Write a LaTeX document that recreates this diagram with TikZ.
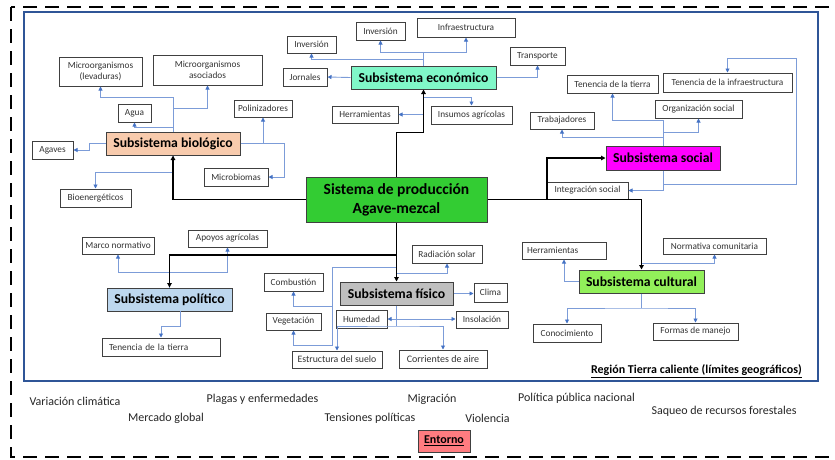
\documentclass[tikz,border=0pt]{standalone}
\usepackage{fontspec}
\setmainfont{Carlito}
\usetikzlibrary{arrows.meta}
\definecolor{lnblue}{RGB}{124,156,216}
\definecolor{tipblue}{RGB}{68,114,196}
\definecolor{frameblue}{RGB}{47,85,151}
\definecolor{boxgray}{RGB}{64,64,64}
\definecolor{maingreen}{RGB}{51,204,51}
\definecolor{ecofill}{RGB}{128,247,200}
\definecolor{biofill}{RGB}{248,203,173}
\definecolor{socfill}{RGB}{255,0,255}
\definecolor{polfill}{RGB}{189,215,238}
\definecolor{fisfill}{RGB}{191,191,191}
\definecolor{culfill}{RGB}{146,240,90}
\definecolor{entfill}{RGB}{255,124,128}
\tikzset{
 sbox/.style={draw=boxgray, line width=1pt, fill=white, inner sep=1pt, font=\fontsize{9.3}{11.5}\selectfont, align=center, text=black!80},
 subbox/.style={draw=boxgray, line width=1pt, inner sep=1pt, font=\fontsize{13.7}{16}\selectfont\bfseries},
 bl/.style={draw=lnblue, line width=0.9pt},
 bla/.style={bl, -{Triangle[length=4pt,width=4pt,color=tipblue]}},
 blb/.style={bl, {Triangle[length=4pt,width=4pt,color=tipblue]}-{Triangle[length=4pt,width=4pt,color=tipblue]}},
 blk/.style={draw=black, line width=1.3pt, -{Triangle[length=4.5pt,width=4.5pt]}},
 envtext/.style={font=\fontsize{12}{14}\selectfont, text=black!85, inner sep=0}
}
\begin{document}
\begin{tikzpicture}[x=1pt,y=-1pt]
\useasboundingbox (0,0) rectangle (835,459);
% frames
\draw[line width=2.2pt, dash pattern=on 14pt off 8pt] (11,7) rectangle (850,457);
\draw[frameblue, line width=1.5pt] (24,12) rectangle (818,381);
\node[font=\fontsize{12}{14}\selectfont\bfseries, anchor=east, inner sep=0] (reg) at (802,371) {\underline{Región Tierra caliente (límites geográficos)}};

% main and subsystem boxes
\node[subbox, fill=maingreen, minimum width=181, minimum height=45, align=center, font=\fontsize{15.5}{19}\selectfont\bfseries] (main) at (396.5,199.5) {Sistema de producción\\Agave-mezcal};
\node[subbox, fill=ecofill, minimum width=145, minimum height=23] (eco) at (423.5,77.5) {Subsistema económico};
\node[subbox, fill=biofill, minimum width=134, minimum height=23] (bio) at (173,143.5) {Subsistema biológico};
\node[subbox, fill=socfill, minimum width=114, minimum height=24] (soc) at (663,158) {Subsistema social};
\node[subbox, fill=polfill, minimum width=125, minimum height=23] (pol) at (169.5,299.5) {Subsistema político};
\node[subbox, fill=fisfill, minimum width=113, minimum height=23] (fis) at (396.5,293.5) {Subsistema físico};
\node[subbox, fill=culfill, minimum width=125, minimum height=23] (cul) at (641.5,281.5) {Subsistema cultural};

% biological
\node[sbox, minimum width=83, minimum height=29] (lev) at (100.5,71.5) {Microorganismos\\(levaduras)};
\node[sbox, minimum width=109, minimum height=30] (aso) at (207.5,70) {Microorganismos\\asociados};
\node[sbox, minimum width=33, minimum height=18] (agua) at (134.5,113) {Agua};
\node[sbox, minimum width=58, minimum height=17] (poli) at (263,108.5) {Polinizadores};
\node[sbox, minimum width=41, minimum height=18] (agaves) at (52.5,150) {Agaves};
\node[sbox, minimum width=64, minimum height=18] (micro) at (236,177) {Microbiomas};
\node[sbox, minimum width=71, minimum height=18] (bioe) at (95.5,198) {Bioenergéticos};
% economic
\node[sbox, minimum width=49, minimum height=17] (inv1) at (311.5,44.5) {Inversión};
\node[sbox, minimum width=49, minimum height=18] (inv2) at (380.5,31) {Inversión};
\node[sbox, minimum width=98, minimum height=19] (infra) at (466,27.5) {Infraestructura};
\node[sbox, minimum width=55, minimum height=18] (trans) at (537.5,56) {Transporte};
\node[sbox, minimum width=44, minimum height=18] (jorn) at (305,77) {Jornales};
\node[sbox, minimum width=66, minimum height=17] (herr1) at (365,114.5) {Herramientas};
\node[sbox, minimum width=81, minimum height=18] (insumos) at (471.5,115) {Insumos agrícolas};
% social
\node[sbox, minimum width=91, minimum height=18] (tt1) at (612.5,84) {Tenencia de la tierra};
\node[sbox, minimum width=129, minimum height=19] (teninfra) at (727.5,82.5) {Tenencia de la infraestructura};
\node[sbox, minimum width=87, minimum height=18] (org) at (698.5,109) {Organización social};
\node[sbox, minimum width=64, minimum height=17] (trab) at (562,120.5) {Trabajadores};
\node[sbox, minimum width=81, minimum height=17] (integ) at (587.5,190.5) {Integración social};
% political
\node[sbox, minimum width=72, minimum height=17] (marco) at (118,245.5) {Marco normativo};
\node[sbox, minimum width=79, minimum height=17] (apoyos) at (227.5,238.5) {Apoyos agrícolas};
\node[sbox, minimum width=118, minimum height=18, text width=104, align=left] (tt2) at (161,347) {Tenencia de la tierra};
% physical
\node[sbox, minimum width=70, minimum height=18] (rad) at (447,254) {Radiación solar};
\node[sbox, minimum width=59, minimum height=18] (comb) at (293.5,282) {Combustión};
\node[sbox, minimum width=55, minimum height=17] (veg) at (293.5,321.5) {Vegetación};
\node[sbox, minimum width=51, minimum height=18] (hum) at (361.5,319) {Humedad};
\node[sbox, minimum width=33, minimum height=19] (clima) at (490.5,292.5) {Clima};
\node[sbox, minimum width=52, minimum height=17] (insol) at (482,319.5) {Insolación};
\node[sbox, minimum width=90, minimum height=17, font=\fontsize{9.8}{11.5}\selectfont] (estr) at (337,359.5) {Estructura del suelo};
\node[sbox, minimum width=88, minimum height=18, font=\fontsize{10}{11.5}\selectfont] (corr) at (443,359) {Corrientes de aire};
% cultural
\node[sbox, minimum width=84, minimum height=17, text width=74, align=left] (herr2) at (564,250.5) {Herramientas};
\node[sbox, minimum width=103, minimum height=16] (norm) at (714.5,246) {Normativa comunitaria};
\node[sbox, minimum width=68, minimum height=18] (conoc) at (567,333) {Conocimiento};
\node[sbox, minimum width=85, minimum height=17] (formas) at (695.5,331.5) {Formas de manejo};

% environment
\node[envtext] (e1) at (75,401) {Variación climática};
\node[envtext] (e2) at (166,418) {Mercado global};
\node[envtext] (e3) at (262.5,399) {Plagas y enfermedades};
\node[envtext] (e4) at (370,418) {Tensiones políticas};
\node[envtext] (e5) at (432,399) {Migración};
\node[envtext] (e6) at (487.5,418) {Violencia};
\node[envtext] (e7) at (576.5,398) {Política pública nacional};
\node[envtext] (e8) at (724,411) {Saqueo de recursos forestales};
\node[subbox, fill=entfill, minimum width=52, minimum height=22, font=\fontsize{12}{14}\selectfont\bfseries] (ent) at (444,441) {\underline{Entorno}};

% blue connectors: biological
\coordinate (b1) at (173,97);
\coordinate (b2) at (173,108);
\coordinate (b3) at (173,127);
\coordinate (b4) at (173,172);
\draw[bla] (bio.north) -- (b1) -| (lev.south);
\draw[bla] (b2) -| (aso.south);
\draw[bla] (b3) -| (agua.south);
\draw[bla] (bio.west) -- (89,143.5) |- (agaves.east);
\draw[bla] (bio.south) -- (b4) -| (bioe.north);
\draw[bla] (bio.east) -- (284,143.5) |- (micro.east);
\draw[bla] (poli.south |- bio.east) -- (poli.south);
% economic
\coordinate (c1) at (423.5,52);
\coordinate (c2) at (423.5,59);
\coordinate (c3) at (423.5,97);
\draw[bla] (eco.north) -- (c1) -| (inv2.south);
\draw[bla] (c1) -| (infra.south);
\draw[bla] (c2) -| (inv1.south);
\draw[bla] (eco.west) -- (jorn.east);
\draw[bla] (eco.east) -| (trans.south);
\draw[bla] (eco.south) |- (herr1.east);
\draw[bla] (c3) -| (insumos.north);
% social
\coordinate (s1) at (663,120);
\coordinate (s2) at (663,132);
\coordinate (s3) at (663,137);
\coordinate (s4) at (663,184);
\draw[bla] (soc.north) -- (s1) -| (tt1.south);
\draw[bla] (s2) -| (org.south);
\draw[bla] (s3) -| (trab.south);
\draw[bla] (soc.south) |- (integ.east);
\draw[bla] (s4) -- (796,184) -- (796,58) -| (teninfra.north);
% political
\coordinate (p1) at (169.5,272);
\draw[bla] (pol.north) -- (p1) -| (marco.south);
\draw[bla] (p1) -| (apoyos.south);
\draw[bla] (180,311) -- (180,326) -| (tt2.north);
% physical
\coordinate (f1) at (396.5,273);
\coordinate (f2) at (396.5,267);
\coordinate (f3) at (332,306);
\coordinate (f4) at (396.5,326);
\draw[bla] (f1) -| (rad.south);
\draw[bla] (f2) -- (332,267) -- (332,345) -| (veg.south);
\draw[bla] (f3) -| (comb.south);
\draw[bla] (fis.east) -- (fis.east -| clima.west);
\draw[blb] (hum.east) -- (hum.east -| insol.west);
\draw[bl] (fis.south) -- (f4);
\draw[blb] (estr.north) |- (f4) -| (corr.north);
% cultural
\coordinate (k1) at (641.5,263);
\coordinate (k2) at (641.5,308);
\draw[bla] (cul.west) -| (herr2.south);
\draw[bla] (k1) -| (norm.south);
\draw[bl] (cul.south) -- (k2);
\draw[blb] (conoc.north) |- (k2) -| (formas.north);

% black connectors
\coordinate (js) at (547,199.5);
\coordinate (jp) at (396.5,255);
\draw[blk] (main.west) -| (bio.south);
\draw[blk] (main.east) -| (cul.north);
\draw[blk] (js) |- (soc.west);
\draw[blk] (main.north) -- ++(0,-44) -| (eco.south);
\draw[blk] (main.south) -- (fis.north);
\draw[blk] (jp) -| (pol.north);
\end{tikzpicture}
\end{document}
